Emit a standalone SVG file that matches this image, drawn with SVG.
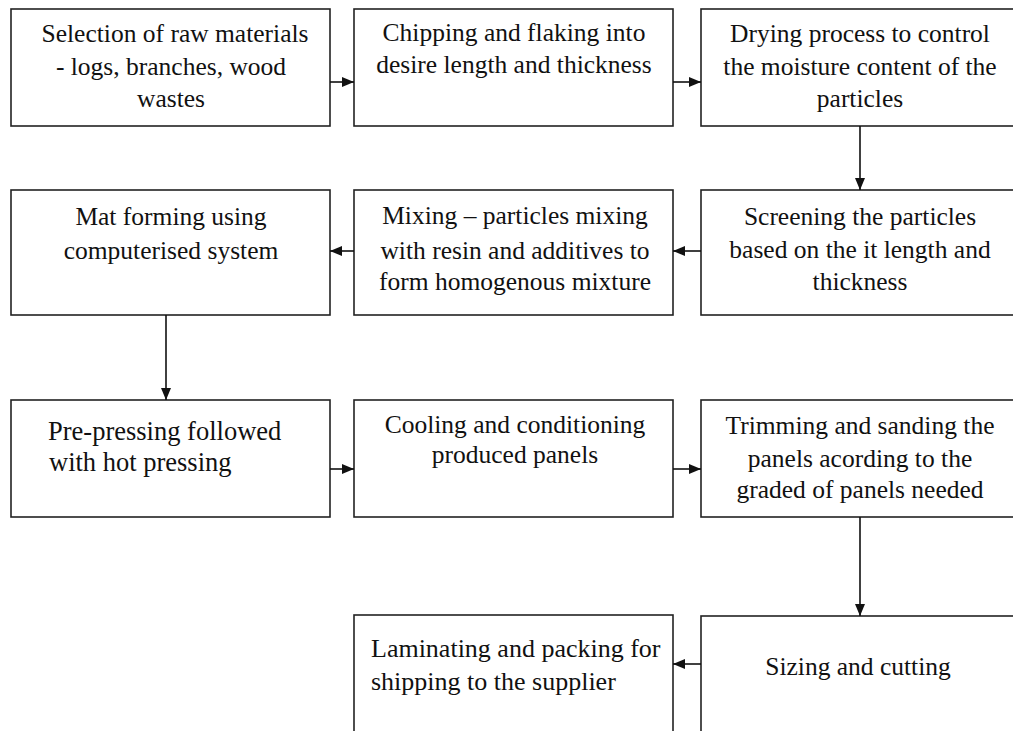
<svg xmlns="http://www.w3.org/2000/svg" width="1013" height="731" viewBox="0 0 1013 731">
<style>
.box{fill:#fff;stroke:#222;stroke-width:1.6}
.t{font-family:"Liberation Serif","Times New Roman",serif;font-size:25.5px;fill:#111;text-anchor:middle}
.l{text-anchor:start}
.c{fill:none;stroke:#111;stroke-width:1.6}
</style>
<defs>
<marker id="ah" viewBox="0 0 12 10" refX="12" refY="5" markerWidth="12" markerHeight="10" markerUnits="userSpaceOnUse" orient="auto">
<path d="M0,0 L12,5 L0,10 Z" fill="#111"/>
</marker>
</defs>
<rect width="1013" height="731" fill="#fff"/>
<g id="n1"><rect class="box" x="11" y="9" width="319" height="117"/>
<text class="t" x="175" y="42">Selection of raw materials</text>
<text class="t" x="171" y="75">-  logs, branches, wood</text>
<text class="t" x="171" y="107">wastes</text></g>
<g id="n2"><rect class="box" x="354" y="9" width="319" height="117"/>
<text class="t" x="514" y="41">Chipping and flaking into</text>
<text class="t" x="514" y="73">desire length and thickness</text></g>
<g id="n3"><rect class="box" x="701" y="9" width="330" height="117"/>
<text class="t" x="860" y="42">Drying process to control</text>
<text class="t" x="860" y="75">the moisture content of the</text>
<text class="t" x="860" y="107">particles</text></g>
<g id="n4"><rect class="box" x="701" y="190" width="330" height="125"/>
<text class="t" x="860" y="225">Screening the particles</text>
<text class="t" x="860" y="258">based on the it length and</text>
<text class="t" x="860" y="290">thickness</text></g>
<g id="n5"><rect class="box" x="354" y="190" width="319" height="125"/>
<text class="t" x="515" y="224">Mixing – particles mixing</text>
<text class="t" x="515" y="259">with resin and additives to</text>
<text class="t" x="515" y="290">form homogenous mixture</text></g>
<g id="n6"><rect class="box" x="11" y="190" width="319" height="125"/>
<text class="t" x="171" y="225">Mat forming using</text>
<text class="t" x="171" y="259">computerised system</text></g>
<g id="n7"><rect class="box" x="11" y="400" width="319" height="117"/>
<text class="t l" x="48" y="440" style="font-size:26.5px">Pre-pressing followed</text>
<text class="t l" x="49" y="471" style="font-size:26.5px">with hot pressing</text></g>
<g id="n8"><rect class="box" x="354" y="400" width="319" height="117"/>
<text class="t" x="515" y="433">Cooling and conditioning</text>
<text class="t" x="515" y="463">produced panels</text></g>
<g id="n9"><rect class="box" x="701" y="400" width="330" height="117"/>
<text class="t" x="860" y="434">Trimming and sanding the</text>
<text class="t" x="860" y="467">panels acording to the</text>
<text class="t" x="860" y="498">graded of panels needed</text></g>
<g id="n10"><rect class="box" x="701" y="616" width="330" height="130"/>
<text class="t" x="858" y="675">Sizing and cutting</text></g>
<g id="n11"><rect class="box" x="354" y="615" width="319" height="130"/>
<text class="t l" x="371" y="657" style="font-size:26px">Laminating and packing for</text>
<text class="t l" x="371" y="690" style="font-size:26px">shipping to the supplier</text></g>
<g id="connectors">
<line class="c" x1="330" y1="82" x2="354" y2="82" marker-end="url(#ah)"/>
<line class="c" x1="673" y1="82" x2="701" y2="82" marker-end="url(#ah)"/>
<line class="c" x1="860" y1="126" x2="860" y2="190" marker-end="url(#ah)"/>
<line class="c" x1="701" y1="251" x2="673" y2="251" marker-end="url(#ah)"/>
<line class="c" x1="354" y1="251" x2="330" y2="251" marker-end="url(#ah)"/>
<line class="c" x1="166" y1="315" x2="166" y2="400" marker-end="url(#ah)"/>
<line class="c" x1="330" y1="469" x2="354" y2="469" marker-end="url(#ah)"/>
<line class="c" x1="673" y1="469" x2="701" y2="469" marker-end="url(#ah)"/>
<line class="c" x1="860" y1="517" x2="860" y2="616" marker-end="url(#ah)"/>
<line class="c" x1="701" y1="664" x2="673" y2="664" marker-end="url(#ah)"/>
</g>
</svg>
